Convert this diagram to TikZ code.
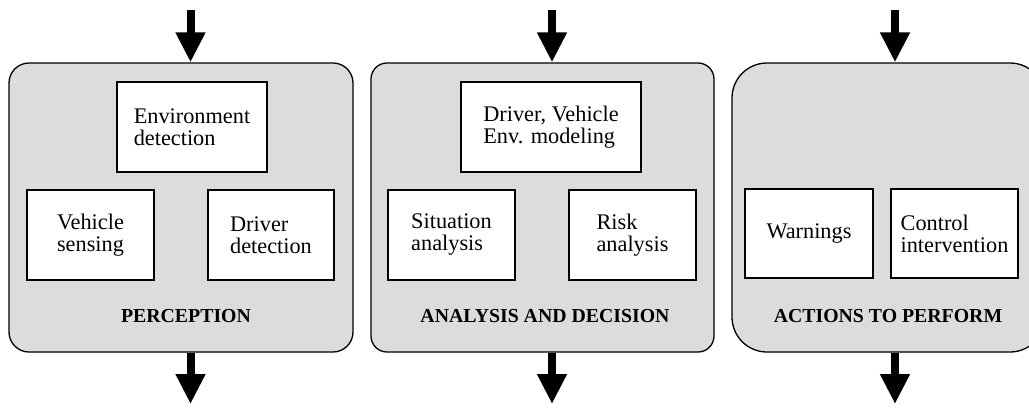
\documentclass[tikz,border=0pt]{standalone}
\usepackage{fontspec}
\setmainfont{Liberation Serif}
\usepackage{tikz}
\usetikzlibrary{positioning,arrows.meta}
\definecolor{PanelGray}{HTML}{DCDCDC}

\begin{document}
\begin{tikzpicture}[
  x=1pt, y=-1pt,
  panel/.style={draw=black, line width=1.3pt, fill=PanelGray, inner sep=0pt},
  box/.style={draw=black, line width=1.3pt, fill=white, align=left, inner sep=2pt,
    font=\fontsize{22.3}{22}\selectfont},
  title/.style={font=\fontsize{19.8}{22}\selectfont\bfseries},
  bigarrow/.style={-{Triangle[width=28pt,length=30pt]}, line width=8pt, color=black}
]
  \useasboundingbox (0,0) rectangle (1029,408);
  \clip (0,0) rectangle (1029,408);

  % panels
  \node[panel, rounded corners=20pt, minimum width=344pt, minimum height=289pt] (perc) at (181,207.5) {};
  \node[panel, rounded corners=16pt, minimum width=343pt, minimum height=289pt] (anal) at (542.5,207.5) {};
  \node[panel, rounded corners=35pt, minimum width=313pt, minimum height=289pt] (act) at (888.5,207.5) {};

  % perception
  \node[box, minimum width=150pt, minimum height=90pt] (env) at (192,127) {Environment\\detection};
  \node[box, minimum width=127pt, minimum height=90pt] (veh) at (90.5,235) {Vehicle\\sensing};
  \node[box, minimum width=126pt, minimum height=90pt] (drv) at (271,235) {Driver\\detection};
  \node[title] (percl) at (186,316) {PERCEPTION};

  % analysis and decision
  \node[box, minimum width=180pt, minimum height=90pt] (model) at (551,127) {Driver, Vehicle\\Env. modeling};
  \node[box, minimum width=127pt, minimum height=90pt] (sit) at (451.5,235) {Situation\\analysis};
  \node[box, minimum width=127pt, minimum height=90pt] (risk) at (632.5,235) {Risk\\analysis};
  \node[title] (anall) at (545,316) {ANALYSIS AND DECISION};

  % actions
  \node[box, minimum width=128pt, minimum height=89pt] (warn) at (809,233.5) {Warnings};
  \node[box, minimum width=127pt, minimum height=89pt] (ctrl) at (954.5,233.5) {Control\\intervention};
  \node[title] (actl) at (888,316) {ACTIONS TO PERFORM};

  % in / out
  \coordinate (in1) at (190.5,10);
  \coordinate (in2) at (552,10);
  \coordinate (in3) at (895,10);
  \coordinate (out1) at (190.5,404);
  \coordinate (out2) at (552,404);
  \coordinate (out3) at (895,404);
  \draw[bigarrow] (in1) -- (in1 |- perc.north);
  \draw[bigarrow] (in2) -- (in2 |- anal.north);
  \draw[bigarrow] (in3) -- (in3 |- act.north);
  \draw[bigarrow] (out1 |- perc.south) -- (out1);
  \draw[bigarrow] (out2 |- anal.south) -- (out2);
  \draw[bigarrow] (out3 |- act.south) -- (out3);
\end{tikzpicture}
\end{document}
